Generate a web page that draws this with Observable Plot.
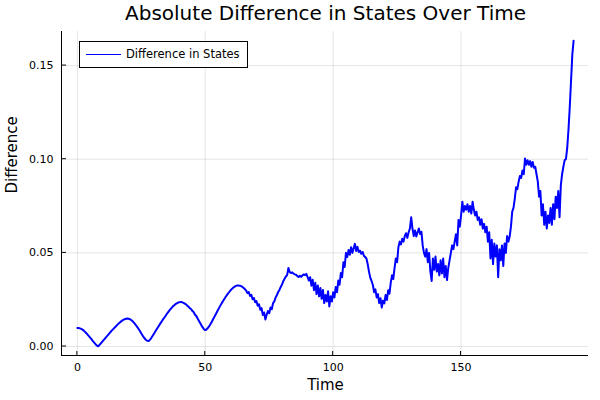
<!DOCTYPE html>
<html><head><meta charset="utf-8">
<script src="https://cdn.jsdelivr.net/npm/d3@7"></script>
<script src="https://cdn.jsdelivr.net/npm/@observablehq/plot@0.6"></script>
<style>
body{margin:0;background:#fff;}
#wrap{position:relative;width:600px;height:400px;font-family:"DejaVu Sans",sans-serif;}
#legend{position:absolute;left:79px;top:41px;width:169px;height:27px;border:1px solid #000;box-sizing:border-box;background:#fff;}
#legend .ln{position:absolute;left:6px;top:11.5px;width:35px;height:0;border-top:1.6px solid #0000ff;}
#legend .lb{position:absolute;left:46px;top:5px;font-size:11.5px;line-height:14px;color:#000;white-space:nowrap;}
</style></head><body><div id="wrap"></div>
<script>
const title = "Absolute Difference in States Over Time";
const xLabel = "Time";
const yLabel = "Difference";
const seriesName = "Difference in States";
const timeStart = 0;
const timeStep = 0.5;
const difference = [
  0.0099,0.0099,0.0097,0.0094,0.0090,0.0085,0.0078,0.0071,0.0063,0.0055,
  0.0047,0.0039,0.0030,0.0022,0.0014,0.0007,0.0001,0.0006,0.0014,0.0022,
  0.0030,0.0038,0.0046,0.0054,0.0062,0.0070,0.0078,0.0086,0.0093,0.0100,
  0.0107,0.0114,0.0121,0.0127,0.0133,0.0138,0.0143,0.0146,0.0148,0.0149,
  0.0148,0.0146,0.0142,0.0136,0.0129,0.0121,0.0112,0.0102,0.0092,0.0081,
  0.0070,0.0059,0.0049,0.0040,0.0033,0.0030,0.0031,0.0038,0.0048,0.0059,
  0.0070,0.0081,0.0092,0.0103,0.0114,0.0125,0.0135,0.0145,0.0155,0.0164,
  0.0175,0.0184,0.0193,0.0201,0.0209,0.0216,0.0222,0.0228,0.0232,0.0235,
  0.0237,0.0238,0.0236,0.0233,0.0229,0.0224,0.0218,0.0212,0.0204,0.0199,
  0.0189,0.0183,0.0170,0.0163,0.0150,0.0138,0.0125,0.0113,0.0102,0.0092,
  0.0088,0.0091,0.0099,0.0108,0.0119,0.0131,0.0144,0.0157,0.0170,0.0183,
  0.0196,0.0209,0.0221,0.0233,0.0244,0.0255,0.0266,0.0276,0.0285,0.0293,
  0.0302,0.0309,0.0315,0.0320,0.0324,0.0326,0.0326,0.0325,0.0322,0.0318,
  0.0313,0.0306,0.0298,0.0285,0.0291,0.0270,0.0276,0.0252,0.0259,0.0236,
  0.0243,0.0218,0.0226,0.0196,0.0205,0.0168,0.0182,0.0144,0.0170,0.0189,
  0.0178,0.0208,0.0199,0.0232,0.0241,0.0262,0.0275,0.0291,0.0302,0.0318,
  0.0331,0.0349,0.0362,0.0374,0.0381,0.0419,0.0398,0.0392,0.0396,0.0389,
  0.0385,0.0383,0.0376,0.0371,0.0378,0.0372,0.0380,0.0385,0.0381,0.0388,
  0.0371,0.0352,0.0370,0.0325,0.0356,0.0301,0.0340,0.0280,0.0326,0.0268,
  0.0312,0.0255,0.0302,0.0232,0.0275,0.0240,0.0295,0.0214,0.0268,0.0240,
  0.0290,0.0262,0.0318,0.0290,0.0352,0.0330,0.0392,0.0370,0.0450,0.0425,
  0.0500,0.0478,0.0515,0.0490,0.0530,0.0500,0.0525,0.0548,0.0510,0.0532,
  0.0505,0.0512,0.0495,0.0505,0.0485,0.0478,0.0470,0.0440,0.0400,0.0368,
  0.0350,0.0330,0.0290,0.0305,0.0262,0.0280,0.0232,0.0258,0.0208,0.0245,
  0.0230,0.0275,0.0248,0.0300,0.0282,0.0340,0.0380,0.0360,0.0420,0.0470,
  0.0450,0.0530,0.0560,0.0545,0.0575,0.0560,0.0590,0.0605,0.0580,0.0610,
  0.0630,0.0690,0.0630,0.0590,0.0620,0.0587,0.0610,0.0630,0.0600,0.0613,
  0.0540,0.0500,0.0480,0.0520,0.0450,0.0500,0.0400,0.0350,0.0470,0.0410,
  0.0480,0.0400,0.0440,0.0380,0.0460,0.0390,0.0470,0.0370,0.0430,0.0355,
  0.0420,0.0460,0.0500,0.0540,0.0520,0.0560,0.0600,0.0540,0.0676,0.0640,
  0.0700,0.0773,0.0720,0.0750,0.0730,0.0760,0.0720,0.0750,0.0710,0.0773,
  0.0730,0.0700,0.0720,0.0676,0.0690,0.0650,0.0680,0.0630,0.0655,0.0610,
  0.0640,0.0560,0.0610,0.0470,0.0570,0.0440,0.0550,0.0480,0.0540,0.0370,
  0.0520,0.0460,0.0540,0.0430,0.0550,0.0500,0.0590,0.0560,0.0587,0.0640,
  0.0720,0.0740,0.0790,0.0850,0.0840,0.0880,0.0910,0.0900,0.0940,0.0920,
  0.1004,0.0970,0.0995,0.0970,0.0990,0.0960,0.0985,0.0955,0.0960,0.0920,
  0.0880,0.0800,0.0830,0.0700,0.0760,0.0650,0.0720,0.0630,0.0700,0.0660,
  0.0740,0.0650,0.0760,0.0680,0.0800,0.0740,0.0830,0.0690,0.0860,0.0920,
  0.0960,0.0995,0.1000,0.1060,0.1160,0.1280,0.1420,0.1560,0.1633
];
const xTicks = [0, 50, 100, 150];
const yTicks = [0, 0.05, 0.10, 0.15];

const data = difference.map((v, i) => ({time: timeStart + i * timeStep, value: v}));
const [x0, x1] = d3.extent(data, d => d.time);
const [y0, y1] = d3.extent(data, d => d.value);
const px = (x1 - x0) * 0.03, py = (y1 - y0) * 0.03;

const chart = Plot.plot({
  width: 600, height: 400,
  marginTop: 31, marginLeft: 62, marginRight: 12, marginBottom: 45,
  style: {fontFamily: "DejaVu Sans", fontSize: "11px", background: "#fff", color: "#000", overflow: "visible"},
  x: {domain: [x0 - px, x1 + px]},
  y: {domain: [y0 - py, y1 + py]},
  marks: [
    Plot.gridX(xTicks, {stroke: "#000", strokeOpacity: 0.1, strokeWidth: 1}),
    Plot.gridY(yTicks, {stroke: "#000", strokeOpacity: 0.1, strokeWidth: 1}),
    Plot.axisX(xTicks, {tickSize: 0, tickPadding: 8, label: null, tickFormat: d => String(d)}),
    Plot.axisY(yTicks, {tickSize: 0, tickPadding: 9, label: null, tickFormat: d3.format(".2f")}),
    Plot.line(data, {x: "time", y: "value", stroke: "#0000ff", strokeWidth: 2}),
    Plot.text([title], {frameAnchor: "top", lineAnchor: "middle", dy: -18, fontSize: 20}),
    Plot.text([xLabel], {frameAnchor: "bottom", lineAnchor: "middle", dy: 30, fontSize: 15}),
    Plot.text([yLabel], {frameAnchor: "left", lineAnchor: "middle", dx: -50, rotate: -90, fontSize: 15})
  ]
});

// axis frame lines and inward tick marks, positioned through the chart's own scales
const sx = chart.scale("x"), sy = chart.scale("y");
const xs = d3.scaleLinear(sx.domain, sx.range);
const ys = d3.scaleLinear(sy.domain, sy.range);
const [xl, xr] = sx.range, yb = sy.range[0], yt = sy.range[1];
const svg = d3.select(chart);
const g = svg.append("g").attr("stroke", "#000").attr("stroke-width", 1).attr("fill", "none");
g.append("line").attr("x1", xl).attr("x2", xr).attr("y1", yb + 0.5).attr("y2", yb + 0.5);
g.append("line").attr("x1", xl - 0.5).attr("x2", xl - 0.5).attr("y1", yt).attr("y2", yb + 1);
xTicks.forEach(t => g.append("line").attr("x1", xs(t)).attr("x2", xs(t)).attr("y1", yb).attr("y2", yb - 4));
yTicks.forEach(t => g.append("line").attr("x1", xl).attr("x2", xl + 4).attr("y1", ys(t)).attr("y2", ys(t)));

const wrap = document.getElementById("wrap");
wrap.appendChild(chart);
const legend = document.createElement("div");
legend.id = "legend";
legend.innerHTML = '<div class="ln"></div><div class="lb"></div>';
legend.querySelector(".lb").textContent = seriesName;
wrap.appendChild(legend);
</script>
</body></html>
